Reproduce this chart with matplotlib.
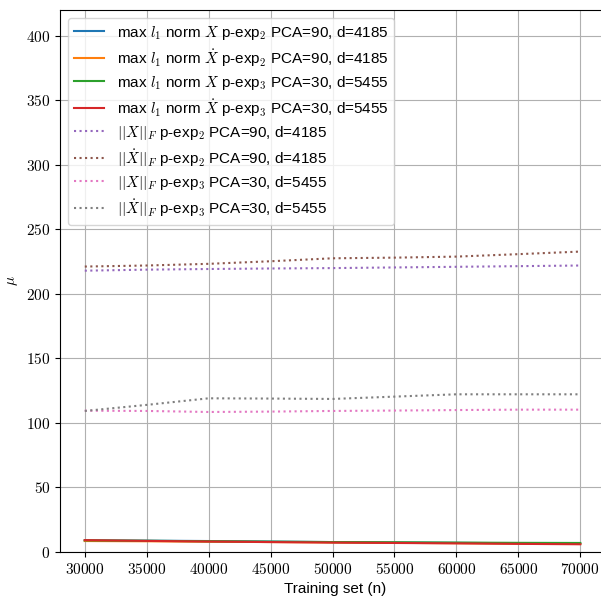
import numpy as np
import matplotlib
matplotlib.use("Agg")
import matplotlib.pyplot as plt
from matplotlib.ticker import FuncFormatter

plt.rcParams["font.family"] = ["Liberation Sans", "DejaVu Sans"]
plt.rcParams["mathtext.fontset"] = "cm"

# Training set sizes
n_train = [30000, 35000, 40000, 45000, 50000, 55000, 60000, 65000, 70000]

# max l1 norm (solid lines)
l1_x_exp2 = [9.0, 8.8, 8.5, 8.1, 7.7, 7.4, 7.1, 6.8, 6.5]
l1_xdot_exp2 = [8.5, 8.3, 8.0, 7.7, 7.4, 7.1, 6.8, 6.5, 6.2]
l1_x_exp3 = [9.0, 8.7, 8.3, 8.0, 7.7, 7.5, 7.3, 7.1, 7.0]
l1_xdot_exp3 = [9.2, 8.6, 8.1, 7.7, 7.3, 7.0, 6.7, 6.3, 6.0]

# Frobenius norms (dotted lines)
fro_x_exp2 = [218.0, 218.8, 219.3, 219.7, 220.0, 220.5, 221.0, 221.5, 222.0]
fro_xdot_exp2 = [221.2, 222.0, 223.3, 225.3, 227.6, 228.1, 228.9, 230.8, 232.8]
fro_x_exp3 = [109.5, 109.3, 108.5, 108.8, 109.3, 109.6, 110.0, 110.3, 110.3]
fro_xdot_exp3 = [109.3, 114.0, 119.1, 118.9, 118.6, 120.4, 122.2, 122.2, 122.2]

labels = [
    r"max $l_1$ norm $X$ p-exp$_2$ PCA=90, d=4185",
    r"max $l_1$ norm $\dot{X}$ p-exp$_2$ PCA=90, d=4185",
    r"max $l_1$ norm $X$ p-exp$_3$ PCA=30, d=5455",
    r"max $l_1$ norm $\dot{X}$ p-exp$_3$ PCA=30, d=5455",
    r"$||X||_F$ p-exp$_2$ PCA=90, d=4185",
    r"$||\dot{X}||_F$ p-exp$_2$ PCA=90, d=4185",
    r"$||X||_F$ p-exp$_3$ PCA=30, d=5455",
    r"$||\dot{X}||_F$ p-exp$_3$ PCA=30, d=5455",
]

fig = plt.figure(figsize=(6.01, 6.0), dpi=100)
ax = fig.add_axes([60 / 601, 48 / 600, 550 / 601, 542 / 600])

solid = [l1_x_exp2, l1_xdot_exp2, l1_x_exp3, l1_xdot_exp3]
dotted = [fro_x_exp2, fro_xdot_exp2, fro_x_exp3, fro_xdot_exp3]
colors = ["tab:blue", "tab:orange", "tab:green", "tab:red",
          "tab:purple", "tab:brown", "tab:pink", "tab:gray"]

for i, ys in enumerate(solid):
    ax.plot(n_train, ys, color=colors[i], label=labels[i])
for i, ys in enumerate(dotted):
    ax.plot(n_train, ys, ":", color=colors[i + 4], label=labels[i + 4])

ax.set_xlim(28000, 72400)
ax.set_ylim(0, 420)
ax.set_xticks(n_train)
ax.set_yticks(np.arange(0, 401, 50))
ax.xaxis.set_major_formatter(FuncFormatter(lambda v, p: f"${int(v)}$"))
ax.yaxis.set_major_formatter(FuncFormatter(lambda v, p: f"${int(v)}$"))
ax.tick_params(labelsize=11)
ax.set_xlabel("Training set (n)", fontsize=11)
ax.set_ylabel(r"$\mu$", fontsize=11)
ax.grid(True)
ax.legend(loc="upper left", fontsize=11, labelspacing=0.34)

fig.savefig("out.png", dpi=100)
